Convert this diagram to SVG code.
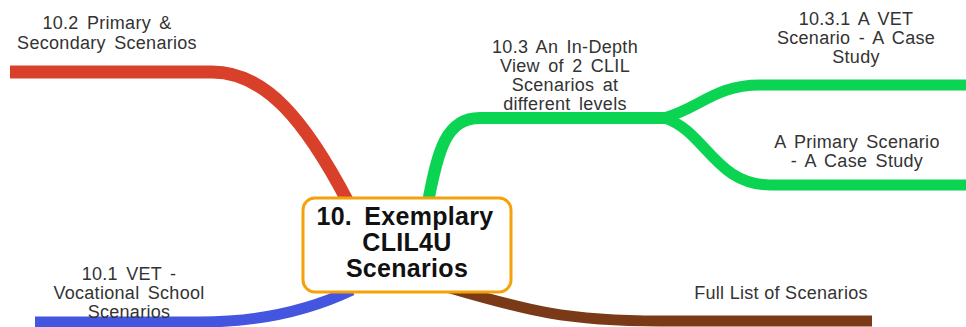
<svg xmlns="http://www.w3.org/2000/svg" width="966" height="327" viewBox="0 0 966 327">
<style>
.c{fill:none;stroke-linecap:butt;stroke-linejoin:round}
.t{font-family:"Liberation Sans",Arial,sans-serif;font-size:18px;fill:#333;text-anchor:middle;word-spacing:3px;letter-spacing:0.3px}
.m{font-family:"Liberation Sans",Arial,sans-serif;font-size:25px;font-weight:bold;fill:#111;text-anchor:middle;word-spacing:5px;letter-spacing:0.3px}
</style>
<rect width="966" height="327" fill="#fff"/>
<g id="connectors">
<path class="c" stroke="#d9402a" stroke-width="13" d="M10,72 H212 C265,72 305,120 348,202"/>
<path class="c" stroke="#0ad452" stroke-width="12" d="M428,202 C438,150 446,118 480,118 H666"/>
<path class="c" stroke="#0ad452" stroke-width="11" d="M664,118 C700,108 715,85 760,85 H966"/>
<path class="c" stroke="#0ad452" stroke-width="11" d="M664,118 C705,130 715,185 770,185 H966"/>
<path class="c" stroke="#4455e0" stroke-width="11" d="M35,322 H200 C260,322 310,310 352,290"/>
<path class="c" stroke="#7a3a18" stroke-width="11" d="M450,288 C520,308 560,321 660,321 H872"/>
</g>
<g id="center">
<rect x="303" y="198" width="208" height="94" rx="12" fill="#fff" stroke="#f5a20a" stroke-width="3"/>
<text class="m" x="405" y="225">10.  Exemplary</text>
<text class="m" x="407" y="251">CLIL4U</text>
<text class="m" x="407" y="277">Scenarios</text>
</g>
<g id="n102">
<text class="t" x="107" y="29">10.2  Primary  &amp;</text>
<text class="t" x="107" y="49">Secondary  Scenarios</text>
</g>
<g id="n103">
<text class="t" x="565" y="53">10.3  An  In-Depth</text>
<text class="t" x="565" y="72">View  of  2  CLIL</text>
<text class="t" x="565" y="91">Scenarios  at</text>
<text class="t" x="565" y="110">different  levels</text>
</g>
<g id="n1031">
<text class="t" x="856" y="25">10.3.1  A  VET</text>
<text class="t" x="856" y="44">Scenario  -  A  Case</text>
<text class="t" x="856" y="63">Study</text>
</g>
<g id="nprimary">
<text class="t" x="857" y="148">A  Primary  Scenario</text>
<text class="t" x="857" y="167">-  A  Case  Study</text>
</g>
<g id="n101">
<text class="t" x="129" y="280">10.1  VET  -</text>
<text class="t" x="129" y="299">Vocational  School</text>
<text class="t" x="129" y="318">Scenarios</text>
</g>
<g id="nfull">
<text class="t" x="781" y="299" style="word-spacing:0">Full List of Scenarios</text>
</g>
</svg>
